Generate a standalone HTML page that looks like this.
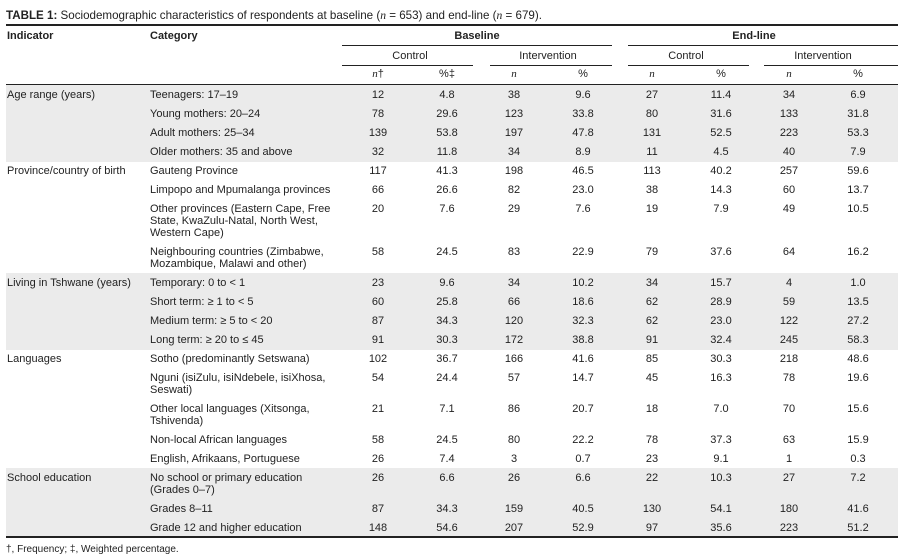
<!DOCTYPE html>
<html><head><meta charset="utf-8"><style>
body{margin:0;width:898px;height:560px;background:#fff;position:relative;font-family:"Liberation Sans",sans-serif;font-size:11px;color:#222;overflow:hidden}
.t{position:absolute;line-height:12px;white-space:nowrap}
.c{position:absolute;line-height:12px;width:60px;text-align:center}
.l{position:absolute;background:#222}
.sh{position:absolute;left:6px;width:892px;background:#ebebeb}
i{font-family:"Liberation Serif",serif;font-style:italic}
b{font-weight:bold}
</style></head><body>
<div class="sh" style="top:84px;height:78px"></div>
<div class="sh" style="top:273px;height:77px"></div>
<div class="sh" style="top:468px;height:68px"></div>
<div class="t" style="left:6px;top:10px;font-size:11.6px"><b>TABLE 1:</b> Sociodemographic characteristics of respondents at baseline (<i>n</i> = 653) and end-line (<i>n</i> = 679).</div>
<div class="l" style="left:6px;top:24px;width:892px;height:2px"></div>
<div class="t" style="left:7px;top:30px"><b>Indicator</b></div>
<div class="t" style="left:150px;top:30px"><b>Category</b></div>
<div class="c" style="left:447px;top:30px"><b>Baseline</b></div>
<div class="c" style="left:724px;top:30px"><b>End-line</b></div>
<div class="l" style="left:342px;top:45px;width:270px;height:1px"></div>
<div class="l" style="left:628px;top:45px;width:270px;height:1px"></div>
<div class="c" style="left:380px;top:50px">Control</div>
<div class="c" style="left:518px;top:50px">Intervention</div>
<div class="c" style="left:656px;top:50px">Control</div>
<div class="c" style="left:793px;top:50px">Intervention</div>
<div class="l" style="left:342px;top:65px;width:131px;height:1px"></div>
<div class="l" style="left:490px;top:65px;width:122px;height:1px"></div>
<div class="l" style="left:628px;top:65px;width:121px;height:1px"></div>
<div class="l" style="left:764px;top:65px;width:134px;height:1px"></div>
<div class="c" style="left:348px;top:68px"><i>n</i>†</div>
<div class="c" style="left:417px;top:68px">%‡</div>
<div class="c" style="left:484px;top:68px"><i>n</i></div>
<div class="c" style="left:553px;top:68px">%</div>
<div class="c" style="left:622px;top:68px"><i>n</i></div>
<div class="c" style="left:691px;top:68px">%</div>
<div class="c" style="left:759px;top:68px"><i>n</i></div>
<div class="c" style="left:828px;top:68px">%</div>
<div class="l" style="left:6px;top:84px;width:892px;height:1px"></div>
<div id="rows"></div>
<div class="l" style="left:6px;top:536px;width:892px;height:2px"></div>
<div class="t" style="left:6px;top:544px;font-size:10px">†, Frequency; ‡, Weighted percentage.</div>
<script>
var R=[
[95,"Age range (years)","Teenagers: 17–19","12 4.8 38 9.6 27 11.4 34 6.9"],
[114,"","Young mothers: 20–24","78 29.6 123 33.8 80 31.6 133 31.8"],
[133,"","Adult mothers: 25–34","139 53.8 197 47.8 131 52.5 223 53.3"],
[152,"","Older mothers: 35 and above","32 11.8 34 8.9 11 4.5 40 7.9"],
[171,"Province/country of birth","Gauteng Province","117 41.3 198 46.5 113 40.2 257 59.6"],
[190,"","Limpopo and Mpumalanga provinces","66 26.6 82 23.0 38 14.3 60 13.7"],
[209,"","Other provinces (Eastern Cape, Free<br>State, KwaZulu-Natal, North West,<br>Western Cape)","20 7.6 29 7.6 19 7.9 49 10.5"],
[252,"","Neighbouring countries (Zimbabwe,<br>Mozambique, Malawi and other)","58 24.5 83 22.9 79 37.6 64 16.2"],
[283,"Living in Tshwane (years)","Temporary: 0 to &lt; 1","23 9.6 34 10.2 34 15.7 4 1.0"],
[302,"","Short term: ≥ 1 to &lt; 5","60 25.8 66 18.6 62 28.9 59 13.5"],
[321,"","Medium term: ≥ 5 to &lt; 20","87 34.3 120 32.3 62 23.0 122 27.2"],
[340,"","Long term: ≥ 20 to ≤ 45","91 30.3 172 38.8 91 32.4 245 58.3"],
[359,"Languages","Sotho (predominantly Setswana)","102 36.7 166 41.6 85 30.3 218 48.6"],
[378,"","Nguni (isiZulu, isiNdebele, isiXhosa,<br>Seswati)","54 24.4 57 14.7 45 16.3 78 19.6"],
[409,"","Other local languages (Xitsonga,<br>Tshivenda)","21 7.1 86 20.7 18 7.0 70 15.6"],
[440,"","Non-local African languages","58 24.5 80 22.2 78 37.3 63 15.9"],
[459,"","English, Afrikaans, Portuguese","26 7.4 3 0.7 23 9.1 1 0.3"],
[478,"School education","No school or primary education<br>(Grades 0–7)","26 6.6 26 6.6 22 10.3 27 7.2"],
[509,"","Grades 8–11","87 34.3 159 40.5 130 54.1 180 41.6"],
[528,"","Grade 12 and higher education","148 54.6 207 52.9 97 35.6 223 51.2"]];
var X=[378,447,514,583,652,721,789,858],h="";
R.forEach(function(r){var t=r[0]-6;
if(r[1])h+='<div class="t" style="left:7px;top:'+t+'px">'+r[1]+'</div>';
h+='<div class="t" style="left:150px;top:'+t+'px">'+r[2]+'</div>';
r[3].split(" ").forEach(function(v,i){h+='<div class="c" style="left:'+(X[i]-30)+'px;top:'+t+'px">'+v+'</div>';});});
document.getElementById("rows").innerHTML=h;
</script>
</body></html>
